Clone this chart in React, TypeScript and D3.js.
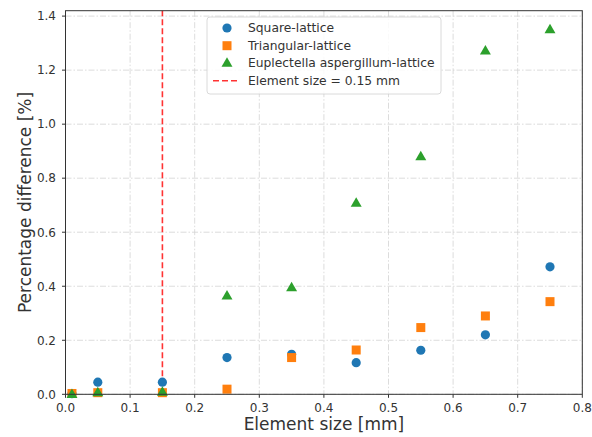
import React from "react";
import * as d3 from "d3";

const sizes = [0.01, 0.05, 0.15, 0.25, 0.35, 0.45, 0.55, 0.65, 0.75];
const squareVals = [0.002, 0.045, 0.045, 0.136, 0.148, 0.117, 0.163, 0.22, 0.472];
const triangularVals = [0.003, 0.006, 0.006, 0.019, 0.136, 0.164, 0.247, 0.29, 0.343];
const euplectellaVals = [0.002, 0.008, 0.01, 0.366, 0.397, 0.71, 0.882, 1.273, 1.352];
const xTicks = [0, 0.1, 0.2, 0.3, 0.4, 0.5, 0.6, 0.7, 0.8];
const yTicks = [0, 0.2, 0.4, 0.6, 0.8, 1.0, 1.2, 1.4];
const elementSize = 0.15;
const legendLabels = [
  "Square-lattice",
  "Triangular-lattice",
  "Euplectella aspergillum-lattice",
  "Element size = 0.15 mm",
];

const W = 592, H = 437;
const L = 65.5, R = 582.3, T = 10.7, B = 394.3;
const FONT = "DejaVu Sans, sans-serif";

export default function App() {
  const x = d3.scaleLinear().domain([0, 0.8]).range([L, R]);
  const y = d3.scaleLinear().domain([0, 1.42]).range([B, T]);
  const tri = d3.symbol().type(d3.symbolTriangle).size(52)();
  const sq = 9;

  const lx = 207, ly = 17;
  const rowY = [28, 45.7, 62.7, 80.7];
  return (
    <svg width={W} height={H} style={{ position: "absolute", left: 0, top: 0, fontFamily: FONT }}>
      <rect width={W} height={H} fill="#fff" />
      {/* grid */}
      {xTicks.map((t) => (
        <line key={"gx" + t} x1={x(t)} x2={x(t)} y1={T} y2={B} stroke="#d3d3d3" strokeWidth={0.8} strokeDasharray="6,2,1.5,2" />
      ))}
      {yTicks.map((t) => (
        <line key={"gy" + t} x1={L} x2={R} y1={y(t)} y2={y(t)} stroke="#d3d3d3" strokeWidth={0.8} strokeDasharray="6,2,1.5,2" />
      ))}
      {/* red line */}
      <line x1={x(elementSize)} x2={x(elementSize)} y1={y(0)} y2={T} stroke="#ff0000" strokeOpacity={0.8} strokeWidth={1.6} strokeDasharray="6,3" />
      {/* points */}
      {sizes.map((s, i) => (
        <circle key={"c" + i} cx={x(s)} cy={y(squareVals[i])} r={4.6} fill="#1f77b4" />
      ))}
      {sizes.map((s, i) => (
        <rect key={"s" + i} x={x(s) - sq / 2} y={y(triangularVals[i]) - sq / 2} width={sq} height={sq} fill="#ff7f0e" />
      ))}
      {sizes.map((s, i) => (
        <path key={"t" + i} d={tri || ""} transform={`translate(${x(s)},${y(euplectellaVals[i]) + 1})`} fill="#2ca02c" />
      ))}
      {/* frame */}
      <rect x={L} y={T} width={R - L} height={B - T} fill="none" stroke="#333" strokeWidth={1} />
      {/* ticks */}
      {xTicks.map((t) => (
        <g key={"xt" + t}>
          <line x1={x(t)} x2={x(t)} y1={B} y2={B + 3.5} stroke="#333" />
          <text x={x(t)} y={412} textAnchor="middle" fontSize={12} fill="#333">{t.toFixed(1)}</text>
        </g>
      ))}
      {yTicks.map((t) => (
        <g key={"yt" + t}>
          <line x1={L - 3.5} x2={L} y1={y(t)} y2={y(t)} stroke="#333" />
          <text x={L - 9.5} y={y(t) + 4.3} textAnchor="end" fontSize={12} fill="#333">{t.toFixed(1)}</text>
        </g>
      ))}
      <text x={(L + R) / 2} y={430} textAnchor="middle" fontSize={17} fill="#333">Element size [mm]</text>
      <text transform={`translate(31,${(T + B) / 2}) rotate(-90)`} textAnchor="middle" fontSize={17} fill="#333">Percentage difference [%]</text>
      {/* legend */}
      <rect x={lx} y={ly} width={234} height={77} rx={3} fill="#fff" fillOpacity={0.85} stroke="#d0d0d0" strokeWidth={0.8} />
      <circle cx={227} cy={rowY[0]} r={4.6} fill="#1f77b4" />
      <rect x={227 - sq / 2} y={rowY[1] - sq / 2} width={sq} height={sq} fill="#ff7f0e" />
      <path d={tri || ""} transform={`translate(227,${rowY[2] + 1})`} fill="#2ca02c" />
      <line x1={213} x2={238} y1={rowY[3]} y2={rowY[3]} stroke="#ff0000" strokeOpacity={0.8} strokeWidth={1.6} strokeDasharray="6,3" />
      {legendLabels.map((lab, i) => (
        <text key={lab} x={248} y={rowY[i] + 4.4} fontSize={12.3} fill="#333">{lab}</text>
      ))}
    </svg>
  );
}
